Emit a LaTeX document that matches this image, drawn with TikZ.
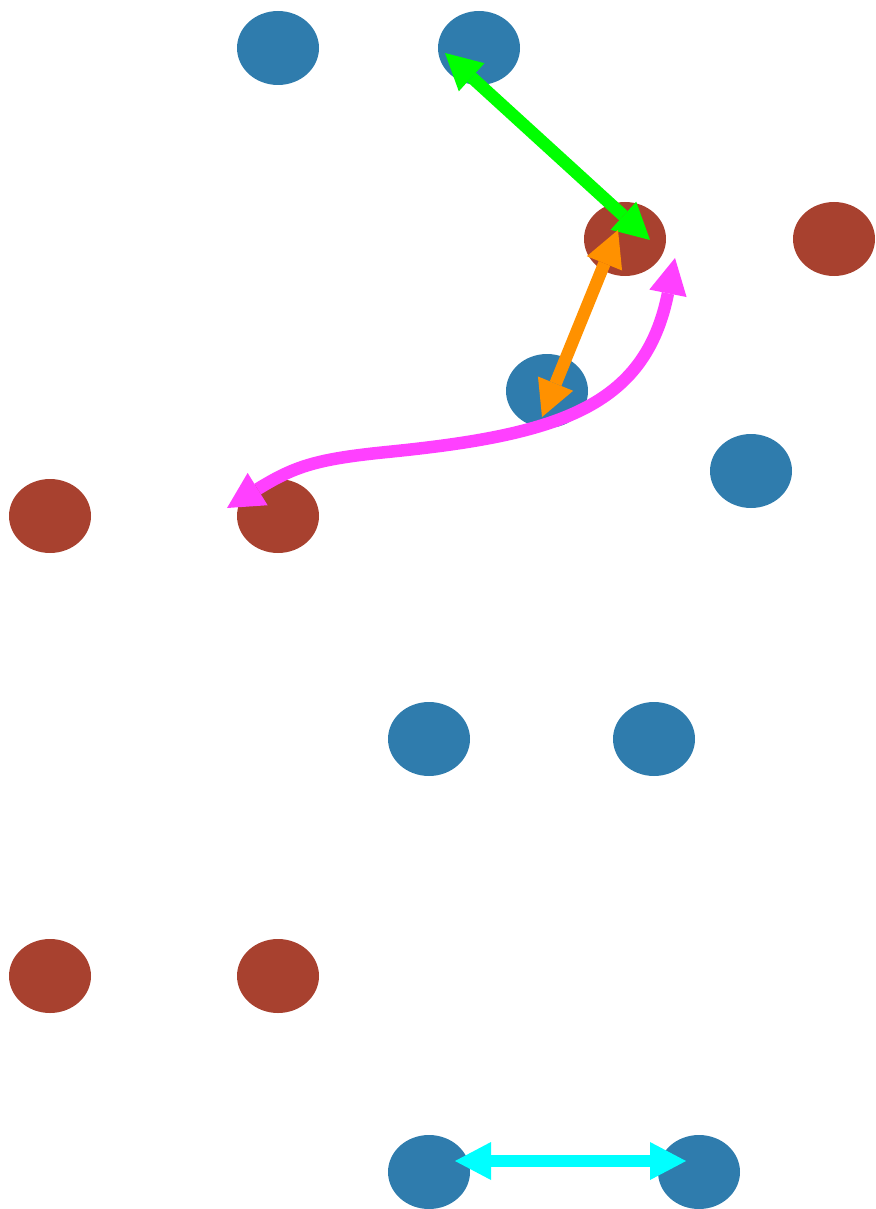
\documentclass[tikz,border=0pt]{standalone}
\definecolor{dotBlue}{HTML}{2F7CAD}
\definecolor{dotRed}{HTML}{A8412F}
\definecolor{linkGreen}{HTML}{00FF00}
\definecolor{linkOrange}{HTML}{FF9100}
\definecolor{linkMagenta}{HTML}{FF40FF}
\definecolor{linkCyan}{HTML}{00FFFF}
\usetikzlibrary{shapes.geometric, arrows.meta, calc}

\begin{document}
\begin{tikzpicture}[
    x=0.5pt, y=-0.5pt,
    dot/.style={ellipse, draw=none, fill=#1, minimum width=41pt,
                minimum height=37pt, inner sep=0pt},
    link/.style={draw=#1, line width=6.25pt,
                 >={Triangle[length=18pt, width=19pt, line width=0pt]}, <->}
  ]
    \useasboundingbox (0,0) rectangle (875,1209);

    % points
    \node[dot=dotBlue] (b1) at (278, 48) {};
    \node[dot=dotBlue] (b2) at (479, 48) {};
    \node[dot=dotRed]  (r1) at (625, 239) {};
    \node[dot=dotRed]  (r2) at (834, 239) {};
    \node[dot=dotBlue] (b3) at (547, 391) {};
    \node[dot=dotBlue] (b4) at (751, 471) {};
    \node[dot=dotRed]  (r3) at (50, 516) {};
    \node[dot=dotRed]  (r4) at (278, 516) {};
    \node[dot=dotBlue] (b5) at (429, 739) {};
    \node[dot=dotBlue] (b6) at (654, 739) {};
    \node[dot=dotRed]  (r5) at (50, 976) {};
    \node[dot=dotRed]  (r6) at (278, 976) {};
    \node[dot=dotBlue] (b7) at (429, 1172) {};
    \node[dot=dotBlue] (b8) at (699, 1172) {};

    % links
    \coordinate (bend) at (387, 452);
    \draw[link=linkGreen] ($(b2)+(-34,5)$) -- ($(r1)+(25,1)$);
    \draw[link=linkMagenta] ($(r1)+(50,19)$)
        .. controls +(-30,150) and +(170,-17) .. (bend)
        .. controls +(-70,7) and +(68,-42) .. ($(r4)+(-51,-8)$);
    \draw[link=linkOrange] ($(r1)+(-7,-9)$) -- ($(b3)+(-5,26)$);
    \draw[link=linkCyan] ($(b7)+(26,-11)$) -- ($(b8)+(-13,-11)$);
  \end{tikzpicture}
\end{document}
